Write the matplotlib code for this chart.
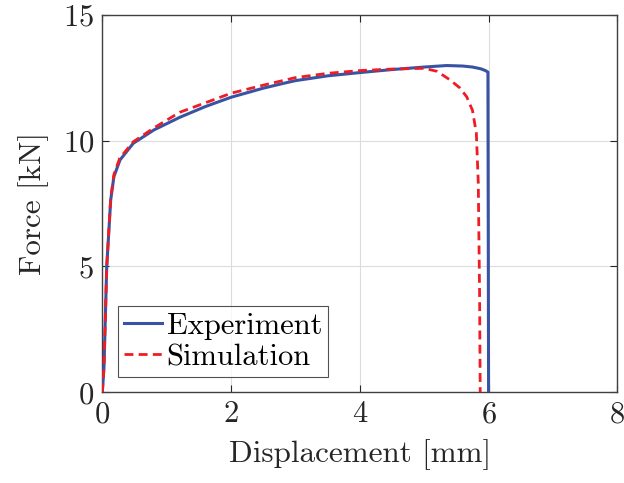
import matplotlib
matplotlib.use("Agg")
import matplotlib.pyplot as plt

plt.rcParams['font.family'] = 'cmr10'
plt.rcParams['mathtext.fontset'] = 'cm'
plt.rcParams['axes.formatter.use_mathtext'] = True

exp_x = [0, 0.026, 0.068, 0.13, 0.18, 0.275, 0.48, 0.8, 1.2, 1.6, 2.0, 2.5, 2.81, 3.0, 3.5, 4.0, 4.5, 5.0, 5.35, 5.6, 5.75, 5.88, 5.95, 5.99, 6.0]
exp_F = [0, 1.02, 4.98, 7.64, 8.57, 9.23, 9.89, 10.42, 10.92, 11.35, 11.72, 12.08, 12.27, 12.38, 12.57, 12.70, 12.82, 12.92, 12.98, 12.96, 12.92, 12.85, 12.78, 12.72, 0]

sim_x = [0, 0.026, 0.068, 0.13, 0.18, 0.27, 0.48, 0.8, 1.2, 1.6, 2.0, 2.5, 3.0, 3.5, 4.0, 4.5, 5.0, 5.2, 5.4, 5.55, 5.66, 5.75, 5.81, 5.84, 5.86, 5.87]
sim_F = [0, 1.0, 4.98, 7.7, 8.65, 9.3, 9.95, 10.5, 11.12, 11.5, 11.88, 12.2, 12.5, 12.67, 12.78, 12.84, 12.87, 12.75, 12.41, 12.1, 11.74, 11.2, 10.29, 8.32, 4.0, 0]

xticks = [0, 2, 4, 6, 8]
yticks = [0, 5, 10, 15]

fig = plt.figure(figsize=(6.24, 4.83), dpi=100)
ax = fig.add_axes([0.164, 0.1878, 0.8253, 0.7818])

ax.plot(exp_x, exp_F, color='#3953a4', lw=2.2, label='Experiment', zorder=3)
ax.plot(sim_x, sim_F, color='#ee1c25', lw=2.0, dashes=(3.2, 1.9), label='Simulation', zorder=4)

ax.set_xlim(0, 8)
ax.set_ylim(0, 15)
ax.set_xticks(xticks)
ax.set_yticks(yticks)
ax.grid(True, color='#dcdcdc', lw=0.8)
ax.set_axisbelow(True)
ax.tick_params(direction='in', length=5, width=0.8, colors='#262626', labelsize=22,
               top=True, right=True, pad=6)
for s in ax.spines.values():
    s.set_color('#404040')
    s.set_linewidth(1.0)

ax.set_xlabel('Displacement [mm]', fontsize=22.4, color='#262626', labelpad=8)
ax.set_ylabel('Force [kN]', fontsize=22.4, color='#262626', labelpad=10)

leg = ax.legend(loc='lower left', bbox_to_anchor=(0.03, 0.04), fontsize=22, frameon=True,
                fancybox=False, edgecolor='#262626', handlelength=1.25, handletextpad=0.15,
                borderpad=0.2, labelspacing=0.12, borderaxespad=0)
leg.get_frame().set_linewidth(0.8)

fig.savefig('out.png', dpi=100)
